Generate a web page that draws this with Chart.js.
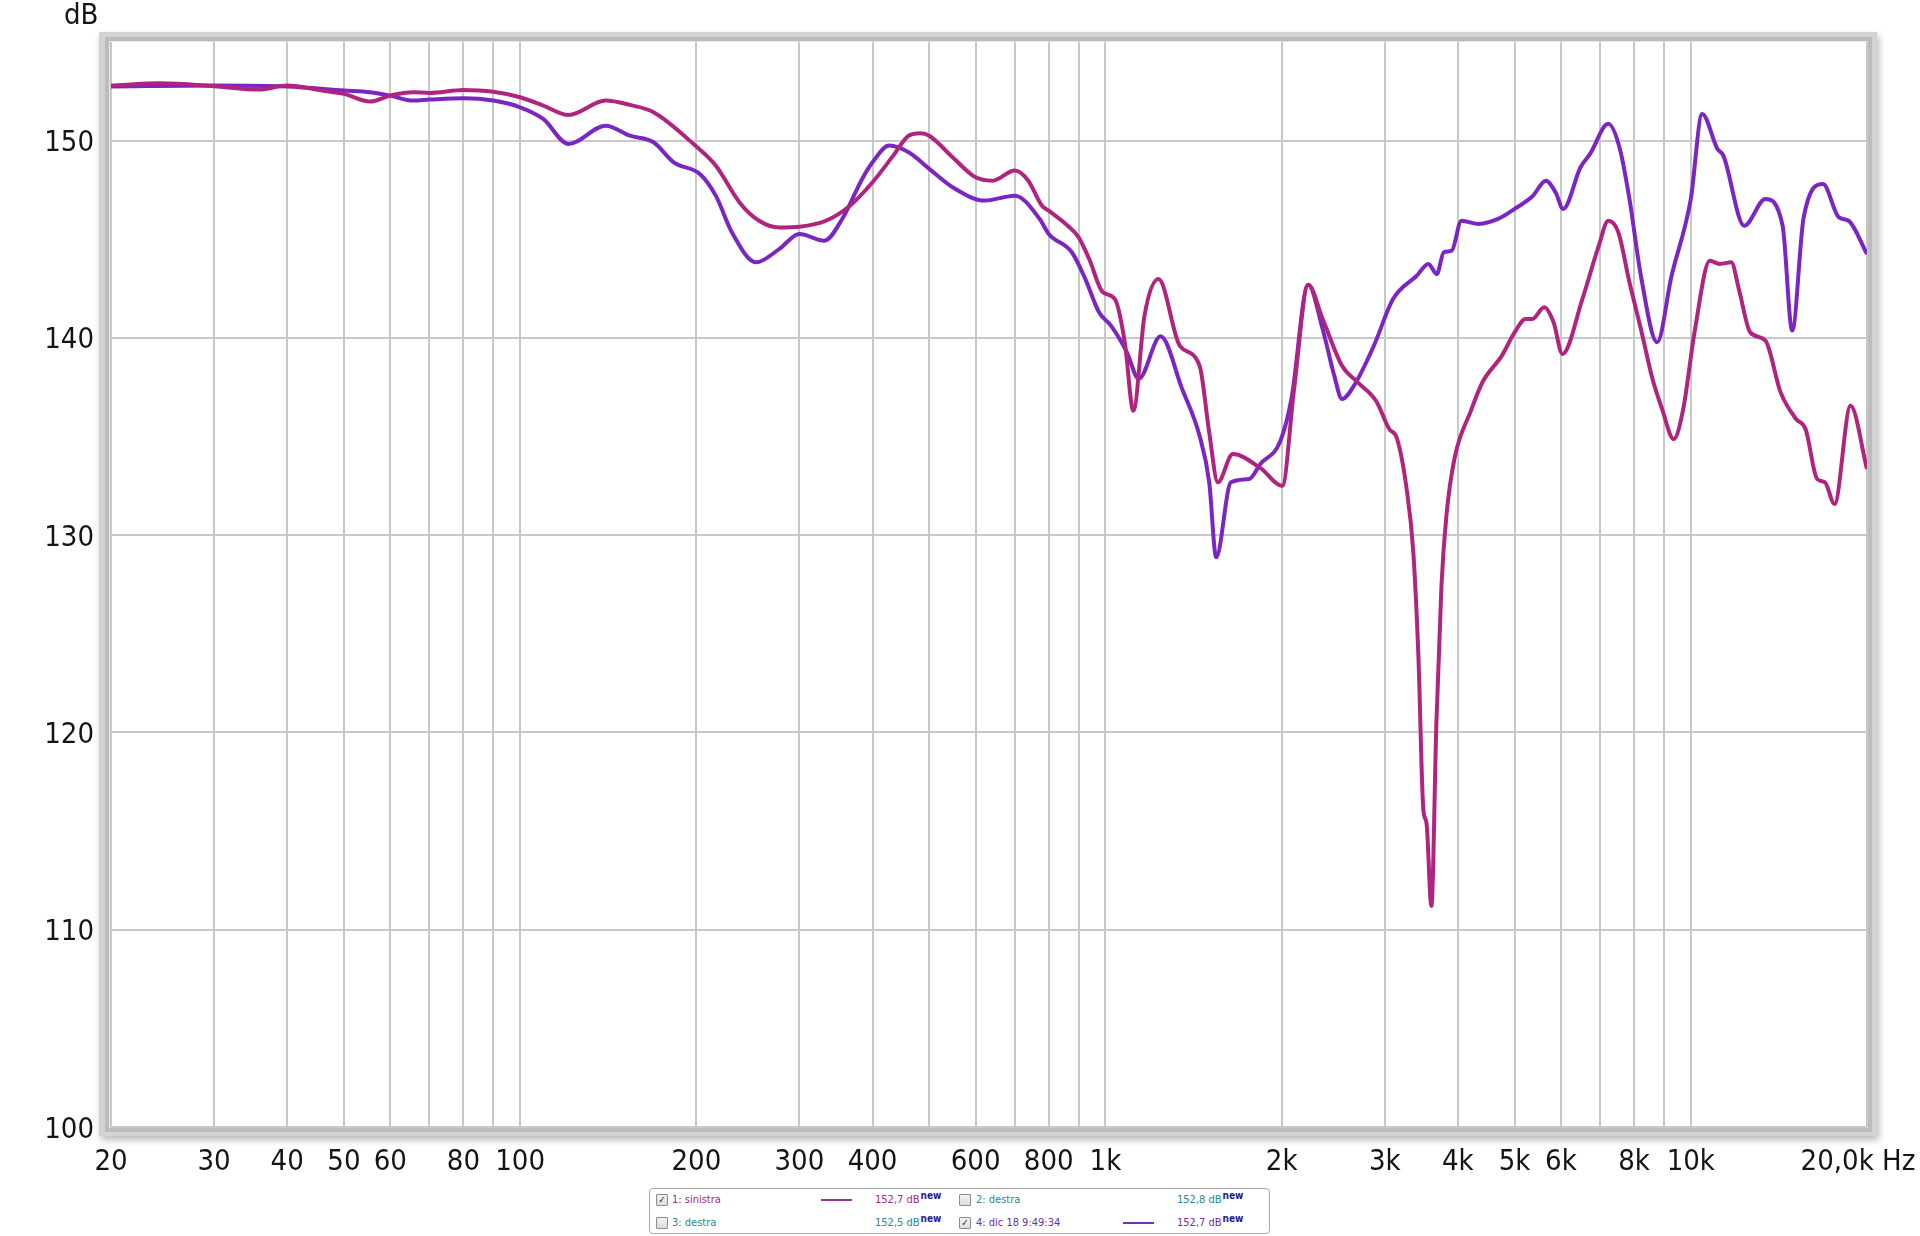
<!DOCTYPE html>
<html>
<head>
<meta charset="utf-8">
<script src="https://cdn.jsdelivr.net/npm/chart.js@4.4.1/dist/chart.umd.min.js"></script>
<style>
  html, body { margin: 0; padding: 0; background: #fff; }
  #wrap { position: relative; width: 1920px; height: 1236px; overflow: hidden; }
  #chart { position: absolute; left: 0; top: 0; }
  .legend {
    position: absolute; left: 649px; top: 1188px; width: 619px; height: 44px;
    border: 1px solid #a8a8a8; border-radius: 4px; background: #fff;
    font: 11px 'DejaVu Sans Condensed', 'DejaVu Sans', sans-serif;
  }
  .legend span { position: absolute; white-space: nowrap; }
  .txt { height: 16px; line-height: 16px; }
  .txt b { font-weight: bold; color: #1c1c8e; font-size: 10px; position: relative; top: -4px; margin-left: 1px; }
  .cb {
    width: 10px; height: 10px; border: 1px solid #8c8c8c; border-radius: 1px;
    background: linear-gradient(#f4f4f4, #dcdcdc);
    font-size: 10px; line-height: 10px; text-align: center; color: #30307a;
  }
  .sample { height: 2px; width: 31px; }
  .pink { color: #9b2a88; }
  .teal { color: #2a878c; }
  .viol { color: #6e2fa0; }
</style>
</head>
<body>
<div id="wrap">
  <canvas id="chart" width="1920" height="1236"></canvas>
  <div class="legend">
    <span class="cb" style="left:6px;top:5px">✓</span>
    <span class="txt pink" style="left:22px;top:3px">1: sinistra</span>
    <span class="sample" style="left:171px;top:10px;background:#8e3a8c"></span>
    <span class="txt pink" style="left:225px;top:3px">152,7 dB<b>new</b></span>
    <span class="cb" style="left:309px;top:5px"></span>
    <span class="txt teal" style="left:326px;top:3px">2: destra</span>
    <span class="txt teal" style="left:527px;top:3px">152,8 dB<b>new</b></span>

    <span class="cb" style="left:6px;top:28px"></span>
    <span class="txt teal" style="left:22px;top:26px">3: destra</span>
    <span class="txt teal" style="left:225px;top:26px">152,5 dB<b>new</b></span>
    <span class="cb" style="left:309px;top:28px">✓</span>
    <span class="txt viol" style="left:326px;top:26px">4: dic 18 9:49:34</span>
    <span class="sample" style="left:473px;top:33px;background:#7a2fb4"></span>
    <span class="txt viol" style="left:527px;top:26px">152,7 dB<b>new</b></span>
  </div>
</div>
<script>
// curva 1: sinistra
const freqSinistra = [20, 24.3, 30, 35.8, 40, 45.9, 50, 55.4, 60, 65.6, 70, 80, 90, 100, 109.5, 121, 140, 154, 169,
  200, 216, 237, 256, 277, 300, 333, 366, 400, 434, 461, 483, 500, 548, 600, 641, 700, 738, 779, 800, 862, 900, 938,
  990, 1038, 1079, 1116, 1166, 1232, 1340, 1448, 1504, 1556, 1650, 1840, 2005, 2100, 2220, 2350, 2536, 2698, 2900,
  3054, 3148, 3270, 3356, 3424, 3492, 3536, 3604, 3676, 3750, 3822, 3948, 4210, 4406, 4756, 5000, 5222, 5364, 5616,
  5828, 6036, 6528, 6964, 7228, 7520, 7856, 8218, 8602, 8934, 9350, 9706, 10148, 10778, 11202, 11726, 12080, 12636,
  13412, 14238, 15130, 15706, 16438, 16952, 17602, 18748, 20000]
const dbSinistra = [152.79, 152.91, 152.76, 152.59, 152.79, 152.54, 152.37, 151.98, 152.28, 152.45, 152.42, 152.57,
  152.48, 152.2, 151.78, 151.3, 152.03, 151.81, 151.44,
  149.7, 148.73, 146.87, 145.94, 145.6, 145.64, 145.94, 146.7, 147.89, 149.24, 150.25, 150.38, 150.25, 149.16, 148.14,
  147.97, 148.48, 147.97, 146.7, 146.45, 145.69, 145.1, 144.0,
  142.31, 141.97, 139.78, 136.31, 141.13, 142.98, 139.6, 138.59, 135.21, 132.68, 134.11, 133.4, 132.5, 137.4, 142.7,
  140.96, 138.59, 137.75, 136.8,
  135.38, 134.9, 132.34, 129.18, 123.95, 116.1, 115.4, 111.2, 120.47, 127.44, 130.93, 133.9, 136.3, 137.75, 139.1,
  140.28, 140.96, 140.96, 141.55,
  140.79, 139.18, 141.97, 144.68, 145.94, 145.35, 142.82, 140.45, 137.92, 136.39, 134.87, 136.39, 140.28, 143.91,
  143.75, 143.83, 142.48, 140.28,
  139.86, 137.24, 135.89, 135.38, 132.85, 132.68, 131.58, 136.56, 133.35]

// curva 4: dic 18 9:49:34
const freqDic = [20, 30, 40, 50, 55.4, 60, 65.6, 70, 80, 90, 100, 109.5, 121, 140, 154, 169, 183, 203, 216, 230, 253,
  277, 300, 331, 355, 384, 400, 427, 461, 500, 548, 622, 700, 772, 800, 876, 924, 975, 1022, 1088, 1140, 1242, 1352,
  1448, 1504, 1546, 1638, 1760, 1838, 1988, 2078, 2220, 2350, 2460, 2536, 2658, 2874, 3100, 3402, 3562, 3682, 3784,
  3904, 4056, 4342, 4684, 5000, 5364, 5656, 5874, 6054, 6480, 6728, 7228, 7566, 7856, 8218, 8760, 9272, 10000, 10456,
  11106, 11366, 12340, 13412, 14350, 14902, 15590, 16820, 17900, 18600, 20000]
const dbDic = [152.75, 152.8, 152.75, 152.54, 152.45, 152.28, 152.03, 152.08, 152.15, 152.03, 151.69, 151.1, 149.83,
  150.76, 150.25, 149.92, 148.9, 148.3, 147.2, 145.36, 143.83,
  144.5, 145.27, 144.93, 146.03, 148.06, 148.9, 149.75, 149.41, 148.57, 147.64, 146.96, 147.21, 146.03, 145.27, 144.34,
  142.98, 141.3, 140.62, 139.27, 137.92, 140.08, 137.41,
  135.04, 132.68, 128.88, 132.68, 132.85, 133.6, 134.75, 136.9, 142.7, 140.45, 138.08, 136.9, 137.58, 139.6, 141.97,
  143.15, 143.75, 143.24, 144.34,
  144.42, 145.94, 145.78, 146.03, 146.54, 147.18, 147.97, 147.38, 146.54, 148.65, 149.33, 150.85, 149.58, 147.04,
  143.15, 139.78, 143.15, 147.04, 151.35,
  149.58, 149.24, 145.69, 147.04, 145.69, 140.37, 146.11, 147.8, 146.11, 145.94, 144.25]

// griglia e etichette asse x
const xGridValues = [20, 30, 40, 50, 60, 70, 80, 90, 100, 200, 300, 400, 500, 600, 700, 800, 900,
  1000, 2000, 3000, 4000, 5000, 6000, 7000, 8000, 9000, 10000, 20000]
const xTickLabels = ['20', '30', '40', '50', '60', '', '80', '', '100', '200', '300', '400', '', '600', '', '800', '',
  '1k', '2k', '3k', '4k', '5k', '6k', '', '8k', '', '10k', '20,0k Hz']
const yTickValues = [100, 110, 120, 130, 140, 150]

const FONT = "'DejaVu Sans Condensed', 'DejaVu Sans', sans-serif"

const toPoints = (xs, ys) => xs.map((x, i) => ({ x, y: ys[i] }))

/*
 * cornice grigia attorno al grafico, etichette asse x e unità dB
 */
const framePlugin = {
  id: 'frame',
  beforeDraw(chart) {
    const { ctx, chartArea: a } = chart
    ctx.save()
    ctx.shadowColor = 'rgba(0,0,0,0.28)'
    ctx.shadowBlur = 7
    ctx.shadowOffsetX = 2
    ctx.shadowOffsetY = 4
    ctx.fillStyle = '#d3d3d3'
    ctx.fillRect(a.left - 12, a.top - 10, a.width + 22, a.height + 19)
    ctx.restore()
    ctx.save()
    ctx.strokeStyle = '#bcbcbc'
    ctx.lineWidth = 4
    ctx.strokeRect(a.left - 4, a.top - 3, a.width + 7, a.height + 6)
    ctx.strokeStyle = '#e4e4e4'
    ctx.lineWidth = 1
    ctx.strokeRect(a.left - 1.5, a.top - 0.5, a.width + 2, a.height + 1)
    ctx.fillStyle = '#fff'
    ctx.fillRect(a.left, a.top, a.width, a.height)
    ctx.restore()
  },
  afterDraw(chart) {
    const { ctx } = chart
    const xs = chart.scales.x
    ctx.save()
    ctx.font = '29px ' + FONT
    ctx.fillStyle = '#141414'
    ctx.textBaseline = 'middle'
    ctx.textAlign = 'center'
    xGridValues.forEach((v, i) => {
      const label = xTickLabels[i]
      if (!label) return
      let px = xs.getPixelForValue(v)
      if (i === xGridValues.length - 1) px -= 9
      ctx.fillText(label, px, 1162)
    })
    ctx.textAlign = 'left'
    ctx.fillText('dB', 64, 16)
    ctx.restore()
  },
}

new Chart(document.getElementById('chart'), {
  type: 'line',
  data: {
    datasets: [
      {
        label: '1: sinistra',
        data: toPoints(freqSinistra, dbSinistra),
        borderColor: '#b0237f',
        borderWidth: 4,
        pointRadius: 0,
        cubicInterpolationMode: 'monotone',
        clip: 0,
      },
      {
        label: '4: dic 18 9:49:34',
        data: toPoints(freqDic, dbDic),
        borderColor: '#7b25c2',
        borderWidth: 4,
        pointRadius: 0,
        cubicInterpolationMode: 'monotone',
        clip: 0,
      },
    ],
  },
  options: {
    responsive: false,
    animation: false,
    devicePixelRatio: 1,
    layout: { padding: { top: 42, right: 53, left: 0, bottom: 0 } },
    plugins: { legend: { display: false }, tooltip: { enabled: false } },
    scales: {
      x: {
        type: 'logarithmic',
        min: 20,
        max: 20000,
        afterBuildTicks: (scale) => { scale.ticks = xGridValues.map((value) => ({ value })) },
        afterFit: (scale) => { scale.height = 109; scale.paddingLeft = 0; scale.paddingRight = 0 },
        border: { display: false },
        grid: { color: '#c8c8cb', lineWidth: 2, drawTicks: false },
        ticks: { display: false },
      },
      y: {
        type: 'linear',
        min: 100,
        max: 155,
        afterBuildTicks: (scale) => { scale.ticks = yTickValues.map((value) => ({ value })) },
        afterFit: (scale) => { scale.width = 111 },
        border: { display: false },
        grid: { color: '#c8c8cb', lineWidth: 2, drawTicks: false },
        ticks: {
          padding: 17,
          labelOffset: 3,
          color: '#141414',
          font: { family: FONT, size: 29 },
        },
      },
    },
  },
  plugins: [framePlugin],
})
</script>
</body>
</html>
